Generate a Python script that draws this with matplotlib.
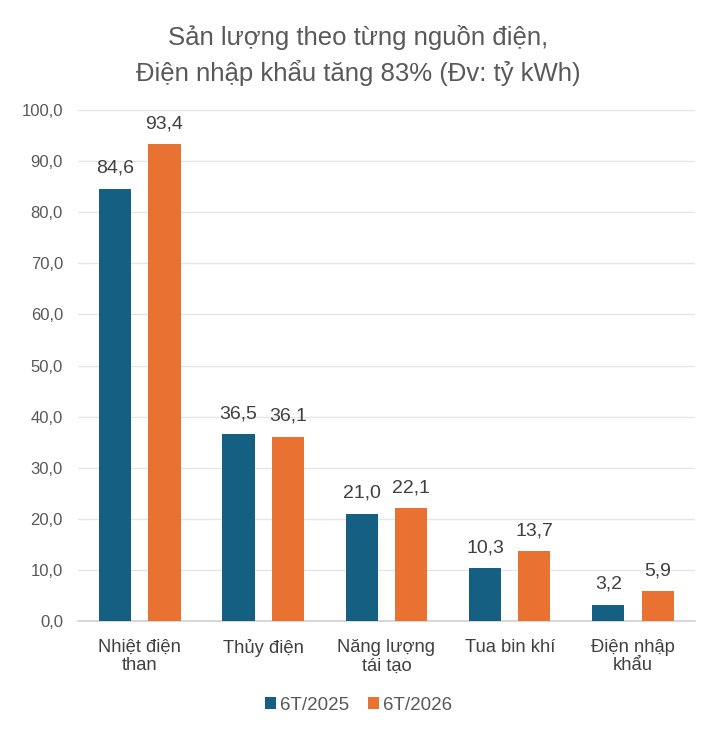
import numpy as np
import matplotlib.pyplot as plt

plt.rcParams['font.family'] = ['Liberation Sans', 'DejaVu Sans']

categories = ["Nhiệt điện\nthan", "Thủy điện", "Năng lượng\ntái tạo", "Tua bin khí", "Điện nhập\nkhẩu"]
s2025 = [84.6, 36.5, 21.0, 10.3, 3.2]
s2026 = [93.4, 36.1, 22.1, 13.7, 5.9]
series_names = ["6T/2025", "6T/2026"]

blue = "#156082"
orange = "#E97132"
txt = "#595959"

fig = plt.figure(figsize=(7.17, 7.37), dpi=100)
ax = fig.add_axes([0.109, 0.1574, 0.86, 0.6933])

x = np.arange(len(categories))
w = 0.26
b1 = ax.bar(x - 0.2, s2025, w, color=blue, label=series_names[0], zorder=3)
b2 = ax.bar(x + 0.2, s2026, w, color=orange, label=series_names[1], zorder=3)

def fmt(v):
    return f"{v:.1f}".replace(".", ",")

for bars in (b1, b2):
    for r in bars:
        ax.text(r.get_x() + r.get_width() / 2, r.get_height() + 2.3, fmt(r.get_height()),
                ha="center", va="bottom", fontsize=14, color="#404040")

ax.set_xlim(-0.5, len(categories) - 0.5)
ax.set_ylim(0, 100)
ax.set_yticks(np.arange(0, 101, 10))
ax.set_yticklabels([fmt(v) for v in np.arange(0, 101, 10)], fontsize=12, color=txt)
ax.set_xticks(x)
ax.set_xticklabels(categories, fontsize=13.2, color="#404040", linespacing=1.1)
ax.tick_params(axis="both", length=0)
ax.tick_params(axis="y", pad=11)
ax.tick_params(axis="x", pad=13)
ax.grid(axis="y", color="#e6e6e6", linewidth=1, zorder=0)
for s in ["top", "right", "left"]:
    ax.spines[s].set_visible(False)
ax.spines["bottom"].set_color("#d0d0d0")
ax.spines["bottom"].set_linewidth(1.2)

fig.text(0.5, 0.925, "Sản lượng theo từng nguồn điện,\nĐiện nhập khẩu tăng 83% (Đv: tỷ kWh)",
         ha="center", va="center", fontsize=18.5, color=txt, linespacing=1.45)

fig.legend(handles=[b1, b2], loc="center", bbox_to_anchor=(0.5, 0.043), ncol=2, frameon=False,
           fontsize=13.5, labelcolor=txt, handlelength=0.6, handleheight=0.6,
           handletextpad=0.2, columnspacing=1.0)

fig.savefig("out.png", dpi=100)
